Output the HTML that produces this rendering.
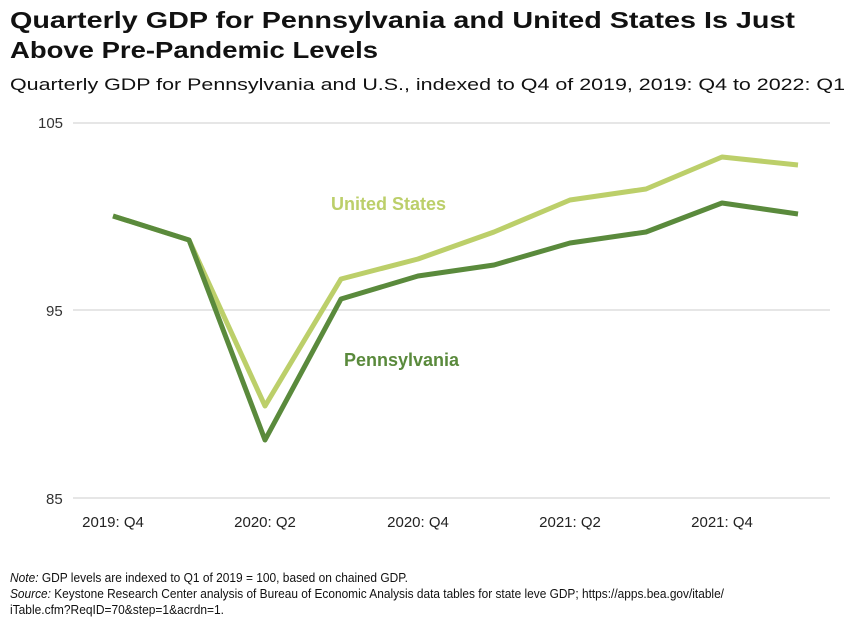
<!DOCTYPE html>
<html><head><meta charset="utf-8"><style>
body{margin:0;background:#fff;}
svg{display:block;font-family:"Liberation Sans",sans-serif;}
</style></head><body>
<svg width="856" height="638" viewBox="0 0 856 638">
<text x="10" y="28" font-size="23" font-weight="bold" fill="#111" textLength="785" lengthAdjust="spacingAndGlyphs">Quarterly GDP for Pennsylvania and United States Is Just</text>
<text x="10" y="58" font-size="23" font-weight="bold" fill="#111" textLength="368" lengthAdjust="spacingAndGlyphs">Above Pre-Pandemic Levels</text>
<text x="10" y="90" font-size="17" fill="#111" textLength="835" lengthAdjust="spacingAndGlyphs">Quarterly GDP for Pennsylvania and U.S., indexed to Q4 of 2019, 2019: Q4 to 2022: Q1</text>
<g stroke="#ccc" stroke-width="1">
<line x1="73" y1="123" x2="830" y2="123"/>
<line x1="73" y1="310" x2="830" y2="310"/>
<line x1="73" y1="498" x2="830" y2="498"/>
</g>
<g font-size="15" fill="#333">
<text x="38" y="128">105</text>
<text x="46" y="316">95</text>
<text x="46" y="504">85</text>
</g>
<g font-size="15" fill="#222" text-anchor="middle">
<text x="113" y="527">2019: Q4</text>
<text x="265" y="527">2020: Q2</text>
<text x="418" y="527">2020: Q4</text>
<text x="570" y="527">2021: Q2</text>
<text x="722" y="527">2021: Q4</text>
</g>
<polyline fill="none" stroke="#bccf6a" stroke-width="5" stroke-linejoin="round" points="113,216 189,240 265,406 341,279 418,259 494,232 570,200 646,189 722,157 798,165"/>
<polyline fill="none" stroke="#5a8a3c" stroke-width="5" stroke-linejoin="round" points="113,216 189,240 265,440 341,299 418,276 494,265 570,243 646,232 722,203 798,214"/>
<text x="331" y="210" font-size="18" font-weight="bold" fill="#bccf6a">United States</text>
<text x="344" y="366" font-size="18" font-weight="bold" fill="#5a8a3c">Pennsylvania</text>
<g font-size="12.5" fill="#111">
<text x="10" y="582" textLength="398" lengthAdjust="spacingAndGlyphs"><tspan font-style="italic">Note:</tspan> GDP levels are indexed to Q1 of 2019 = 100, based on chained GDP.</text>
<text x="10" y="598" textLength="714" lengthAdjust="spacingAndGlyphs"><tspan font-style="italic">Source:</tspan> Keystone Research Center analysis of Bureau of Economic Analysis data tables for state leve GDP; https://apps.bea.gov/itable/</text>
<text x="10" y="614" textLength="214" lengthAdjust="spacingAndGlyphs">iTable.cfm?ReqID=70&amp;step=1&amp;acrdn=1.</text>
</g>
</svg>
</body></html>
